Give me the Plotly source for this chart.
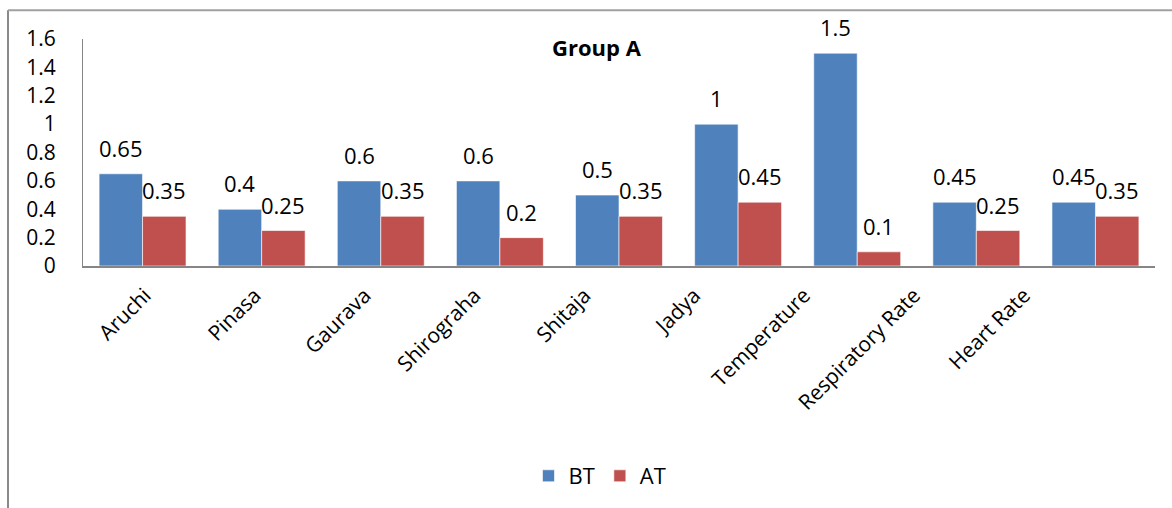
import plotly.graph_objects as go

# Symptom scores before (BT) and after (AT) treatment
categories = ["Aruchi", "Pinasa", "Gaurava", "Shirograha", "Shitaja",
              "Jadya", "Temperature", "Respiratory Rate", "Heart Rate"]
bt_values = [0.65, 0.4, 0.6, 0.6, 0.5, 1.0, 1.5, 0.45, 0.45]
at_values = [0.35, 0.25, 0.35, 0.2, 0.35, 0.45, 0.1, 0.25, 0.35]
y_ticks = [0, 0.2, 0.4, 0.6, 0.8, 1, 1.2, 1.4, 1.6]

BLUE = "#4F81BD"
RED = "#C0504D"
AXIS_GRAY = "#868686"
FONT = "Open Sans"

W, H = 1172, 508
M_L, M_R, M_T, M_B = 83, 17, 39, 241
plot_w = W - M_L - M_R
plot_h = H - M_T - M_B

fig = go.Figure()
fig.add_trace(go.Bar(name="BT", x=categories, y=bt_values, marker_color=BLUE,
                     marker_line=dict(color="rgba(255,255,255,0.6)", width=1)))
fig.add_trace(go.Bar(name="AT", x=categories, y=at_values, marker_color=RED,
                     marker_line=dict(color="rgba(255,255,255,0.6)", width=1)))
# invisible carrier so the category label axis gets drawn
label_pos = list(range(len(categories)))
fig.add_trace(go.Scatter(x=label_pos, y=at_values, xaxis="x2", yaxis="y",
                         mode="markers", marker=dict(opacity=0), showlegend=False,
                         hoverinfo="skip"))

# value labels above each bar of the group
group_w = plot_w / len(categories) * (1 - 0.27)
half_bar = group_w / 4
annotations = []
for cat, b, a in zip(categories, bt_values, at_values):
    for val, dx in ((b, -half_bar), (a, half_bar)):
        annotations.append(dict(
            x=cat, y=val, xref="x", yref="y", text=f"{val:g}",
            showarrow=False, xshift=dx, yshift=26, yanchor="middle",
            font=dict(family=FONT, size=22, color="black")))

annotations.append(dict(
    text="<b>Group A</b>", x=(597 - M_L) / plot_w, y=1 - (47 - M_T) / plot_h,
    xref="paper", yref="paper", showarrow=False, xanchor="center", yanchor="middle",
    font=dict(family=FONT, size=22, color="black")))

# outer chart frame
frame_left = (8 - M_L) / plot_w
frame_top = 1 + (M_T - 10) / plot_h
frame_bottom = -(M_B + 5) / plot_h
frame_right = 1 + (M_R + 5) / plot_w
shapes = [
    dict(type="line", xref="paper", yref="paper", x0=frame_left, x1=frame_left,
         y0=frame_bottom, y1=frame_top, line=dict(color="#8a8a8a", width=2)),
    dict(type="line", xref="paper", yref="paper", x0=frame_left, x1=frame_right,
         y0=frame_top, y1=frame_top, line=dict(color="#a0a0a0", width=2)),
]

# category labels sit on their own slightly narrower label axis
label_x0 = (90 - M_L) / plot_w
label_x1 = (1079 - M_L) / plot_w

fig.update_layout(
    width=W, height=H,
    margin=dict(l=M_L, r=M_R, t=M_T, b=M_B),
    paper_bgcolor="white", plot_bgcolor="rgba(0,0,0,0)",
    barmode="group", bargap=0.27, bargroupgap=0,
    font=dict(family=FONT, color="black"),
    showlegend=True,
    legend=dict(orientation="h", x=(600 - M_L) / plot_w, y=-(476 - (H - M_B)) / plot_h,
                xanchor="center", yanchor="middle",
                font=dict(family=FONT, size=22, color="black"),
                itemwidth=30, traceorder="normal"),
    annotations=annotations,
    shapes=shapes,
    xaxis=dict(type="category", showline=True, linecolor=AXIS_GRAY, linewidth=2, ticks="",
               showgrid=False, showticklabels=False, domain=[0, 1]),
    xaxis2=dict(domain=[label_x0, label_x1], anchor="y", type="linear",
                range=[-0.5, len(categories) - 0.5],
                tickvals=label_pos, ticktext=categories,
                showline=False, showgrid=False, zeroline=False, ticks="",
                tickangle=-45, ticklabelstandoff=12, fixedrange=True,
                tickfont=dict(family=FONT, size=21, color="black")),
    yaxis=dict(range=[0, 1.6], tickvals=y_ticks, showline=True, linecolor=AXIS_GRAY,
               linewidth=1, ticks="", showgrid=False, zeroline=False,
               ticklabelstandoff=22,
               tickfont=dict(family=FONT, size=21, color="black")),
)

fig.write_html("out.html")
